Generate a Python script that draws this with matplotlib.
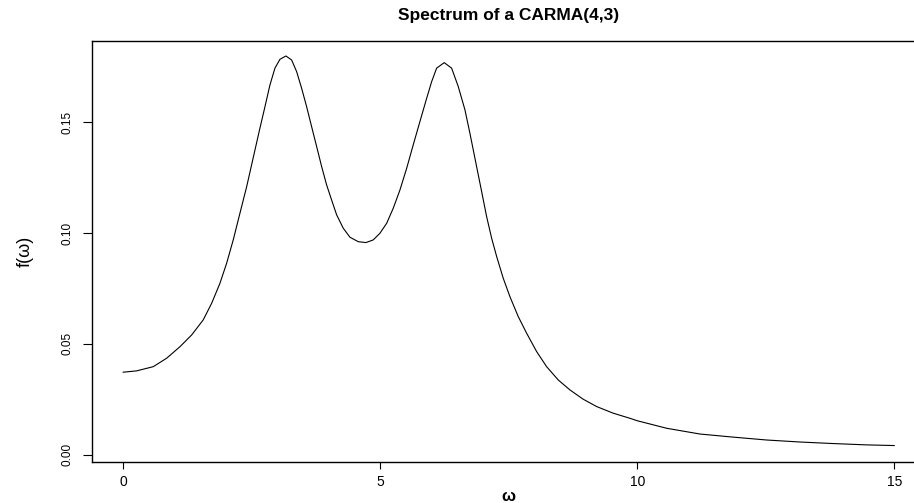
import numpy as np
import matplotlib.pyplot as plt

plt.rcParams['font.family'] = ['Liberation Sans', 'DejaVu Sans']

# values
omega = [0.000, 0.261, 0.584, 0.844, 1.103, 1.331, 1.556, 1.720, 1.881, 2.012,
         2.140, 2.270, 2.401, 2.519, 2.659, 2.757, 2.854, 2.951, 3.049, 3.165,
         3.276, 3.374, 3.471, 3.568, 3.665, 3.763, 3.860, 3.957, 4.054, 4.152,
         4.280, 4.411, 4.572, 4.722, 4.864, 4.994, 5.125, 5.253, 5.383, 5.514,
         5.642, 5.772, 5.903, 6.000, 6.097, 6.245, 6.389, 6.518, 6.648, 6.745,
         6.875, 6.973, 7.070, 7.167, 7.265, 7.393, 7.523, 7.685, 7.848, 8.043,
         8.237, 8.463, 8.691, 8.949, 9.210, 9.533, 9.858, 10.000, 10.572, 11.220,
         11.868, 12.518, 13.165, 13.813, 14.463, 15.000]
spec = [0.0372, 0.0378, 0.0397, 0.0435, 0.0487, 0.0540, 0.0608, 0.0683, 0.0773, 0.0864,
        0.0969, 0.1089, 0.1209, 0.1330, 0.1473, 0.1570, 0.1668, 0.1744, 0.1784, 0.1799,
        0.1781, 0.1728, 0.1653, 0.1570, 0.1480, 0.1390, 0.1300, 0.1217, 0.1149, 0.1082,
        0.1022, 0.0981, 0.0961, 0.0957, 0.0969, 0.0999, 0.1044, 0.1112, 0.1194, 0.1292,
        0.1398, 0.1503, 0.1608, 0.1683, 0.1744, 0.1769, 0.1744, 0.1661, 0.1556, 0.1450,
        0.1300, 0.1187, 0.1074, 0.0977, 0.0894, 0.0796, 0.0713, 0.0623, 0.0548, 0.0465,
        0.0397, 0.0337, 0.0292, 0.0250, 0.0217, 0.0187, 0.0164, 0.0153, 0.0119, 0.0093,
        0.0079, 0.0066, 0.0057, 0.0050, 0.0044, 0.0041]

x_ticks = [0, 5, 10, 15]
y_ticks = [0.00, 0.05, 0.10, 0.15]
y_tick_labels = ["0.00", "0.05", "0.10", "0.15"]

fig = plt.figure(figsize=(9.14, 5.03), dpi=100)
ax = fig.add_axes([0.1011, 0.0825, 0.911, 0.8366])
ax.plot(omega, spec, color="black", linewidth=0.8)

ax.set_xlim(-0.6, 15.6)
ax.set_ylim(-0.0031, 0.1868)
ax.set_xticks(x_ticks)
ax.set_yticks(y_ticks)
ax.set_yticklabels(y_tick_labels, rotation=90, va="center")
ax.tick_params(axis="x", direction="out", length=5.0, width=0.8, pad=5, labelsize=10)
ax.tick_params(axis="y", direction="out", length=6.8, width=0.8, pad=7, labelsize=8.5)
for s in ax.spines.values():
    s.set_linewidth(1.0)

ax.set_title("Spectrum of a CARMA(4,3)", fontsize=12.5, fontweight="bold", pad=15)
ax.set_xlabel("\u03c9", fontsize=12, fontweight="bold", labelpad=0)
ax.set_ylabel("f(\u03c9)", fontsize=13, labelpad=20)

fig.savefig("out.png", dpi=100)
